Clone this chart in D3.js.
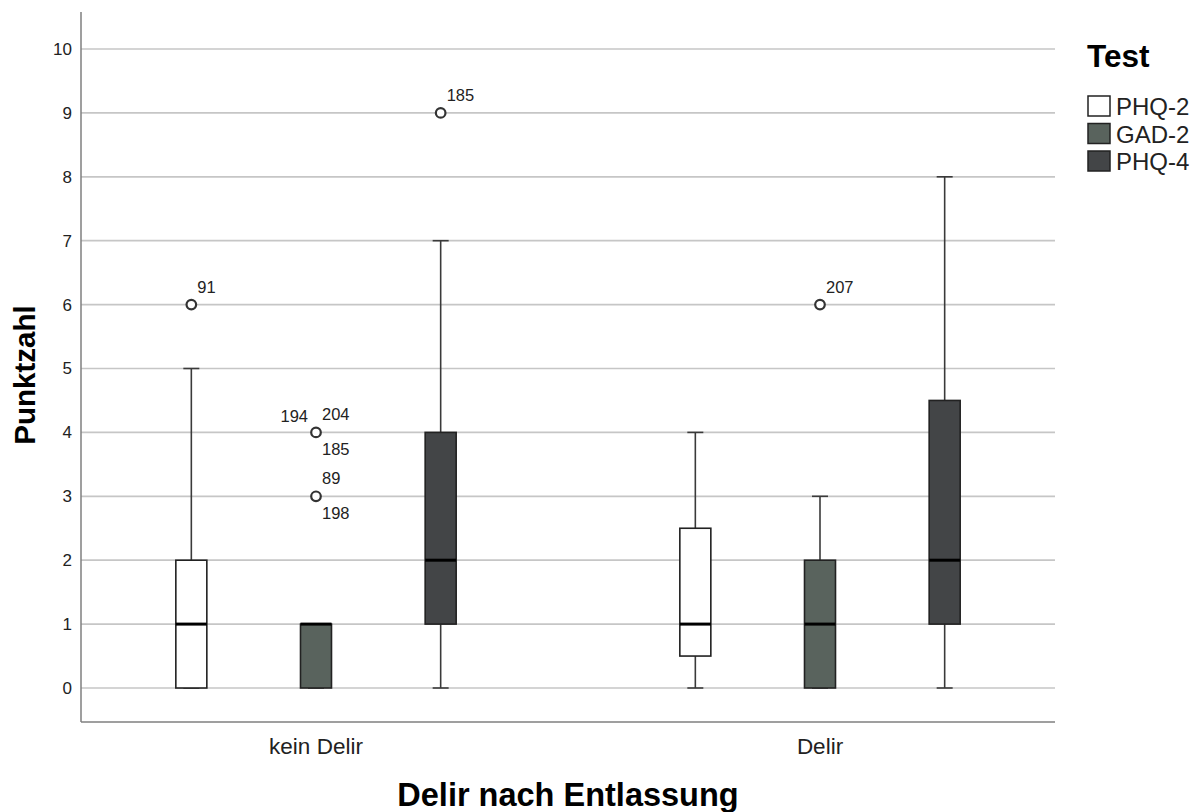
<!DOCTYPE html>
<html>
<head>
<meta charset="utf-8">
<script src="https://cdn.jsdelivr.net/npm/d3@7"></script>
<style>
  html, body { margin: 0; padding: 0; background: #fff; }
  svg { display: block; }
  text { font-family: "Liberation Sans", Arial, sans-serif; }
</style>
</head>
<body>
<svg id="chart" width="1194" height="812"></svg>
<script>
// ---- data ----
const groups = ["kein Delir", "Delir"];
const tests = ["PHQ-2", "GAD-2", "PHQ-4"];
const yTicks = [0, 1, 2, 3, 4, 5, 6, 7, 8, 9, 10];
// per group, per test
const whiskerLow  = [[0, 0, 0], [0, 0, 0]];
const q1          = [[0, 0, 1], [0.5, 0, 1]];
const median      = [[1, 1, 2], [1, 1, 2]];
const q3          = [[2, 1, 4], [2.5, 2, 4.5]];
const whiskerHigh = [[5, 1, 7], [4, 3, 8]];
// outliers: group, test, value, case ids
const outlierGroup = ["kein Delir", "kein Delir", "kein Delir", "kein Delir", "Delir"];
const outlierTest  = ["PHQ-2", "GAD-2", "GAD-2", "PHQ-4", "GAD-2"];
const outlierValue = [6, 4, 3, 9, 6];
const outlierIds   = [["91"], ["204", "185", "194"], ["89", "198"], ["185"], ["207"]];

const fills = ["#ffffff", "#59635d", "#434547"];

// ---- layout ----
const svg = d3.select("#chart");
const left = 81, right = 1055, axisTop = 12, axisBottom = 722;

const y = d3.scaleLinear().domain([0, 10]).range([688, 49]);
const xGroup = d3.scaleBand().domain(groups).range([64, 1072]).paddingInner(0).paddingOuter(0);
const xTest = d3.scaleBand().domain(tests).range([-187, 187]);
const boxW = 31, capW = 16;
const cx = (g, t) => xGroup(g) + xGroup.bandwidth() / 2 + xTest(t) + xTest.bandwidth() / 2;

// gridlines
svg.append("g").selectAll("line").data(yTicks).join("line")
  .attr("x1", left).attr("x2", right)
  .attr("y1", d => y(d)).attr("y2", d => y(d))
  .attr("stroke", "#c6c6c6").attr("stroke-width", 1.7);

// y axis
const yAxis = svg.append("g").attr("transform", `translate(${left},0)`)
  .call(d3.axisLeft(y).tickValues(yTicks).tickSize(0).tickPadding(9).tickFormat(d3.format("d")));
yAxis.select(".domain").remove();
yAxis.selectAll("text").attr("font-size", 17).attr("fill", "#222")
  .style("font-family", '"Liberation Sans", Arial, sans-serif');

// axis lines
svg.append("line").attr("x1", left).attr("x2", left).attr("y1", axisTop).attr("y2", axisBottom)
  .attr("stroke", "#7f7f7f").attr("stroke-width", 1.5);
svg.append("line").attr("x1", left).attr("x2", right).attr("y1", axisBottom).attr("y2", axisBottom)
  .attr("stroke", "#7f7f7f").attr("stroke-width", 1.5);

// x axis labels
const xAxis = svg.append("g").attr("transform", `translate(0,${axisBottom})`)
  .call(d3.axisBottom(xGroup).tickSize(0).tickPadding(16));
xAxis.select(".domain").remove();
xAxis.selectAll("text").attr("font-size", 22.5).attr("fill", "#222")
  .style("font-family", '"Liberation Sans", Arial, sans-serif');

// boxes
const boxes = [];
groups.forEach((g, gi) => tests.forEach((t, ti) => boxes.push({
  g, t, ti, lo: whiskerLow[gi][ti], q1: q1[gi][ti], med: median[gi][ti], q3: q3[gi][ti], hi: whiskerHigh[gi][ti]
})));

const bg = svg.append("g").selectAll("g").data(boxes).join("g");
// whiskers
bg.append("line").attr("x1", d => cx(d.g, d.t)).attr("x2", d => cx(d.g, d.t))
  .attr("y1", d => y(d.q3)).attr("y2", d => y(d.hi)).attr("stroke", "#3a3a3a").attr("stroke-width", 1.6);
bg.append("line").attr("x1", d => cx(d.g, d.t)).attr("x2", d => cx(d.g, d.t))
  .attr("y1", d => y(d.q1)).attr("y2", d => y(d.lo)).attr("stroke", "#3a3a3a").attr("stroke-width", 1.6);
bg.append("line").attr("x1", d => cx(d.g, d.t) - capW / 2).attr("x2", d => cx(d.g, d.t) + capW / 2)
  .attr("y1", d => y(d.hi)).attr("y2", d => y(d.hi)).attr("stroke", "#3a3a3a").attr("stroke-width", 1.6);
bg.append("line").attr("x1", d => cx(d.g, d.t) - capW / 2).attr("x2", d => cx(d.g, d.t) + capW / 2)
  .attr("y1", d => y(d.lo)).attr("y2", d => y(d.lo)).attr("stroke", "#3a3a3a").attr("stroke-width", 1.6);
// box
bg.append("rect").attr("x", d => cx(d.g, d.t) - boxW / 2).attr("width", boxW)
  .attr("y", d => y(d.q3)).attr("height", d => y(d.q1) - y(d.q3))
  .attr("fill", d => fills[d.ti]).attr("stroke", "#222").attr("stroke-width", 1.6);
// median
bg.append("line").attr("x1", d => cx(d.g, d.t) - boxW / 2).attr("x2", d => cx(d.g, d.t) + boxW / 2)
  .attr("y1", d => y(d.med)).attr("y2", d => y(d.med)).attr("stroke", "#000").attr("stroke-width", 3);

// outliers
const outliers = outlierValue.map((v, i) => ({ g: outlierGroup[i], t: outlierTest[i], v, ids: outlierIds[i] }));
const og = svg.append("g").selectAll("g").data(outliers).join("g");
og.append("circle").attr("cx", d => cx(d.g, d.t)).attr("cy", d => y(d.v)).attr("r", 4.8)
  .attr("fill", "#fff").attr("stroke", "#333").attr("stroke-width", 2.2);
// label placement: above-right, below-right, above-left
const labelPos = [
  { dx: 6, dy: -12, anchor: "start" },
  { dx: 6, dy: 23, anchor: "start" },
  { dx: -8, dy: -10, anchor: "end" }
];
og.each(function(d) {
  const sel = d3.select(this);
  d.ids.forEach((id, k) => {
    const p = labelPos[k];
    sel.append("text").attr("x", cx(d.g, d.t) + p.dx).attr("y", y(d.v) + p.dy)
      .attr("text-anchor", p.anchor).attr("font-size", 16.5).attr("fill", "#222").text(id);
  });
});

// axis titles
svg.append("text").attr("x", (left + right) / 2).attr("y", 806).attr("text-anchor", "middle")
  .attr("font-size", 32.5).attr("font-weight", "bold").attr("fill", "#000").text("Delir nach Entlassung");
svg.append("text").attr("transform", "translate(35,375) rotate(-90)").attr("text-anchor", "middle")
  .attr("font-size", 29.5).attr("font-weight", "bold").attr("fill", "#000").text("Punktzahl");

// legend
const lg = svg.append("g");
lg.append("text").attr("x", 1087).attr("y", 67).attr("font-size", 31.5).attr("font-weight", "bold")
  .attr("fill", "#000").text("Test");
const li = lg.selectAll("g.item").data(tests).join("g").attr("class", "item")
  .attr("transform", (d, i) => `translate(1088,${96 + i * 27.5})`);
li.append("rect").attr("width", 22).attr("height", 20).attr("fill", (d, i) => fills[i])
  .attr("stroke", "#222").attr("stroke-width", 1.5);
li.append("text").attr("x", 28).attr("y", 19).attr("font-size", 24).attr("fill", "#222").text(d => d);
</script>
</body>
</html>
